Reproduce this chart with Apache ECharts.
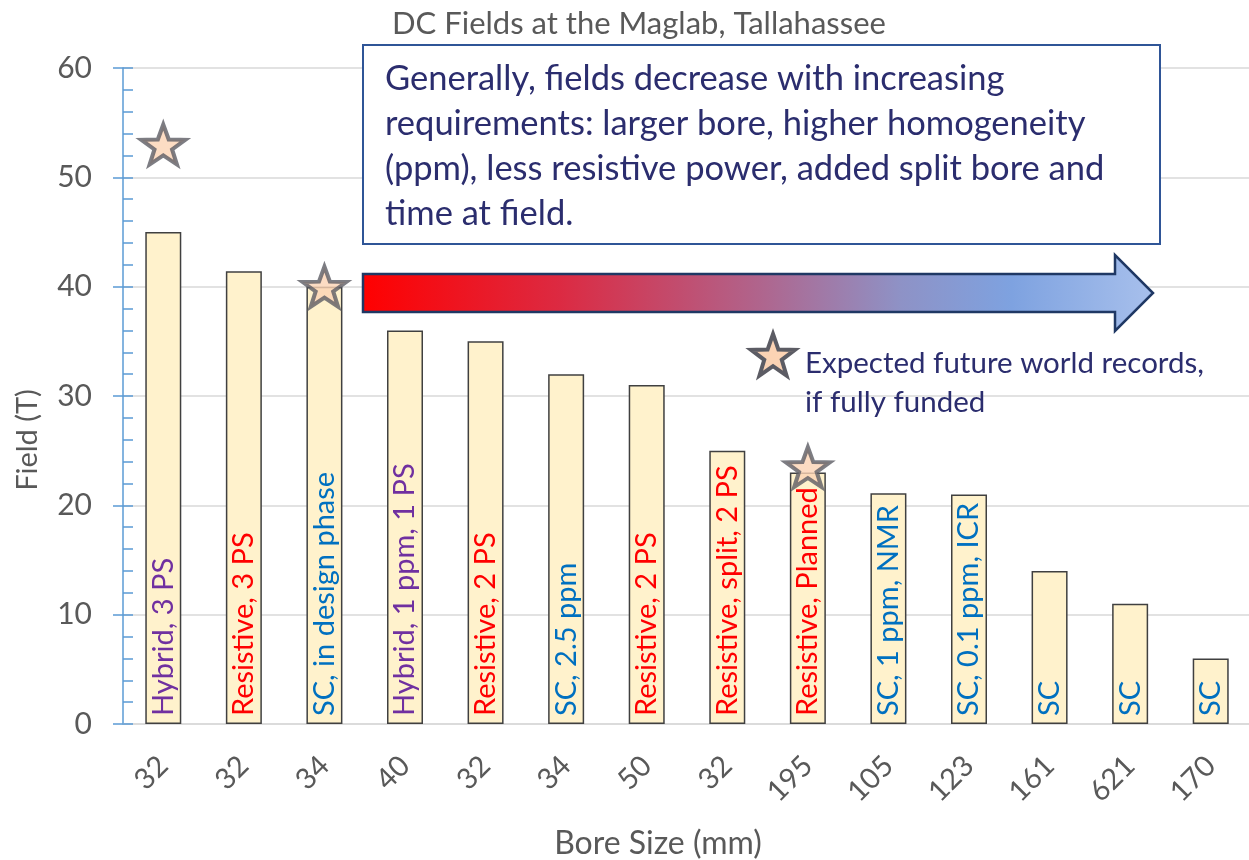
<!DOCTYPE html>
<html>
<head>
<meta charset="utf-8">
<title>DC Fields at the Maglab, Tallahassee</title>
<script src="https://cdn.jsdelivr.net/npm/echarts@6/dist/echarts.min.js"></script>
<style>
  html, body { margin: 0; padding: 0; background: #ffffff; }
  #chart { width: 1249px; height: 860px; }
</style>
</head>
<body>
<div id="chart"></div>
<script>
// Bore sizes (mm) used as category labels, one per magnet
const boreSizes = ['32', '32', '34', '40', '32', '34', '50', '32', '195', '105', '123', '161', '621', '170'];
// Peak DC field of each magnet (T)
const fields = [45, 41.4, 40, 36, 35, 32, 31, 25, 23, 21.1, 21, 14, 11, 6];
// Magnet descriptions written inside the bars
const magnetNotes = [
  'Hybrid, 3 PS', 'Resistive, 3 PS', 'SC, in design phase', 'Hybrid, 1 ppm, 1 PS',
  'Resistive, 2 PS', 'SC, 2.5 ppm', 'Resistive, 2 PS', 'Resistive, split, 2 PS',
  'Resistive, Planned', 'SC, 1 ppm, NMR', 'SC, 0.1 ppm, ICR', 'SC', 'SC', 'SC'
];
// Magnet type of each bar, sets the note colour
const magnetTypes = ['Hybrid', 'Resistive', 'SC', 'Hybrid', 'Resistive', 'SC', 'Resistive',
  'Resistive', 'Resistive', 'SC', 'SC', 'SC', 'SC', 'SC'];
// Expected future world records: [bar index, field (T)]
const futureRecords = [[0, 53], [2, 40], [8, 23.5]];
// Y axis range and step
const yTicks = { min: 0, max: 60, step: 10 };

const chartTitle = 'DC Fields at the Maglab, Tallahassee';
const summaryLines = [
  'Generally, fields decrease with increasing',
  'requirements: larger bore, higher homogeneity',
  '(ppm), less resistive power, added split bore and',
  'time at field.'
];
const legendLines = ['Expected future world records,', 'if fully funded'];

const typeColors = { Hybrid: '#7030a0', Resistive: '#ff0000', SC: '#0070c0' };
const FONT = 'Lato, "Noto Sans", sans-serif';
const GREY = '#595959';
const NAVY = '#2b2d6e';

// Five-pointed star outline: list of vertices around (cx, cy)
function starPoints(cx, cy, outer, innerRatio) {
  const pts = [];
  for (let i = 0; i < 10; i++) {
    const r = i % 2 === 0 ? outer : outer * innerRatio;
    const a = (-90 + i * 36) * Math.PI / 180;
    pts.push([cx + r * Math.cos(a), cy + r * Math.sin(a)]);
  }
  return pts;
}
const STAR_PATH = 'path://M' + starPoints(0, 0, 50, 0.4)
  .map(p => p[0].toFixed(2) + ',' + p[1].toFixed(2)).join('L') + 'Z';
const starStyle = { color: '#fbd3b4', borderColor: '#5c5c64', borderWidth: 4 };

const chart = echarts.init(document.getElementById('chart'), null, { renderer: 'canvas' });

const barData = fields.map((v, i) => ({
  value: v,
  label: { color: typeColors[magnetTypes[i]] }
}));

const option = {
  animation: false,
  backgroundColor: '#ffffff',
  textStyle: { fontFamily: FONT },
  grid: { left: 123, top: 68, width: 1128, height: 656, containLabel: false, outerBoundsMode: 'none' },
  xAxis: {
    type: 'category',
    data: boreSizes,
    name: 'Bore Size (mm)',
    nameLocation: 'middle',
    nameGap: 104,
    nameTextStyle: { fontSize: 32, color: GREY, fontFamily: FONT, padding: [0, 58, 0, 0] },
    axisLine: { lineStyle: { color: '#d9d9d9', width: 1.5 } },
    axisTick: { show: false },
    axisLabel: { rotate: 45, fontSize: 29, color: GREY, margin: 37, fontFamily: FONT, interval: 0 }
  },
  yAxis: [
    {
      type: 'value',
      min: yTicks.min, max: yTicks.max, interval: yTicks.step,
      name: 'Field (T)',
      nameLocation: 'middle',
      nameGap: 81,
      nameTextStyle: { fontSize: 29, color: GREY, fontFamily: FONT, padding: [0, 88, 0, 0] },
      axisLine: { show: true, lineStyle: { color: '#5b9bd5', width: 1.5 } },
      axisTick: { show: true, inside: true, length: 10, lineStyle: { color: '#5b9bd5', width: 1.5 } },
      minorTick: { show: true, splitNumber: 5, length: 10, lineStyle: { color: '#5b9bd5', width: 1.5 } },
      axisLabel: { fontSize: 30, color: GREY, margin: 31, fontFamily: FONT },
      splitLine: { show: true, lineStyle: { color: '#d9d9d9', width: 1.5 } }
    },
    {
      // outer halves of the major ticks
      type: 'value',
      position: 'left',
      min: yTicks.min, max: yTicks.max, interval: yTicks.step,
      axisLine: { show: false },
      axisTick: { show: true, inside: false, length: 10, lineStyle: { color: '#5b9bd5', width: 1.5 } },
      axisLabel: { show: false },
      splitLine: { show: false }
    }
  ],
  series: [
    {
      type: 'bar',
      data: barData,
      barWidth: 36,
      itemStyle: { color: '#fff2cc', borderColor: '#404040', borderWidth: 1.5 },
      label: {
        show: true,
        position: 'insideBottom',
        rotate: 90,
        align: 'left',
        verticalAlign: 'middle',
        distance: 8,
        fontSize: 29,
        fontFamily: FONT,
        formatter: p => magnetNotes[p.dataIndex]
      },
      z: 2
    },
    {
      type: 'scatter',
      data: futureRecords,
      symbol: STAR_PATH,
      symbolSize: [44, 42],
      symbolKeepAspect: true,
      itemStyle: starStyle,
      z: 5
    }
  ],
  graphic: [
    {
      type: 'text',
      x: 392, y: 8,
      style: { text: chartTitle, font: '31px ' + FONT, fill: GREY }
    },
    {
      type: 'rect',
      shape: { x: 363, y: 45, width: 797, height: 199 },
      style: { fill: '#ffffff', stroke: '#2f5597', lineWidth: 2 },
      z: 10
    },
    {
      type: 'text',
      x: 385, y: 56,
      style: { text: summaryLines.join('\n'), font: '34.5px ' + FONT, fill: NAVY, lineHeight: 45 },
      z: 11
    },
    {
      type: 'polygon',
      shape: { points: [[363, 274], [1115, 274], [1115, 255], [1153, 293], [1115, 331], [1115, 312], [363, 312]] },
      style: {
        fill: new echarts.graphic.LinearGradient(0, 0, 1, 0, [
          { offset: 0, color: '#ff0000' },
          { offset: 0.25, color: '#dc2a42' },
          { offset: 0.5, color: '#b0648c' },
          { offset: 0.68, color: '#8e92c6' },
          { offset: 0.82, color: '#7ea2e0' },
          { offset: 1, color: '#a8c0ec' }
        ]),
        stroke: '#1f3864', lineWidth: 2.5, lineJoin: 'miter'
      },
      z: 10
    },
    {
      type: 'polygon',
      shape: { points: starPoints(773, 357, 23, 0.4) },
      style: { fill: starStyle.color, stroke: starStyle.borderColor, lineWidth: 4, lineJoin: 'miter' },
      z: 10
    },
    {
      type: 'text',
      x: 805, y: 344,
      style: { text: legendLines.join('\n'), font: '29.5px ' + FONT, fill: NAVY, lineHeight: 39 },
      z: 10
    }
  ]
};

chart.setOption(option);
</script>
</body>
</html>
